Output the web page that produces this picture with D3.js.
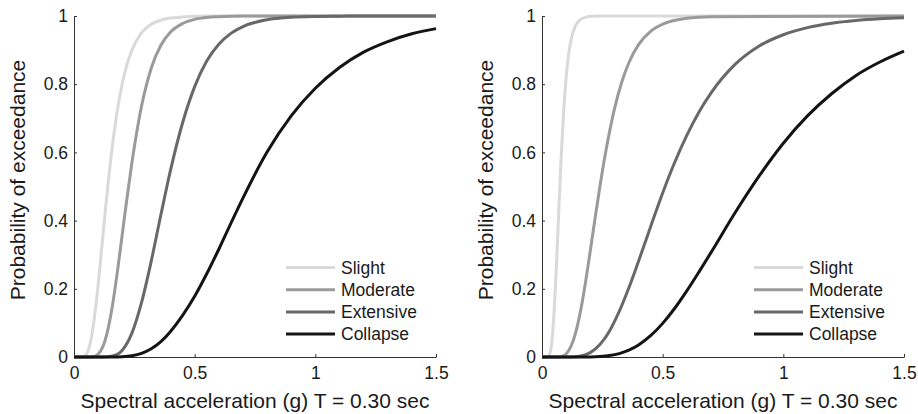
<!DOCTYPE html>
<html><head><meta charset="utf-8">
<script src="https://cdn.jsdelivr.net/npm/d3@7"></script>
<style>
body{margin:0;background:#fff}
svg{display:block}
text{font-family:"Liberation Sans",Arial,Helvetica,sans-serif}
</style>
</head><body>
<svg id="chart" width="918" height="414"></svg>
<script>
// ---------- data ----------
const seriesNames = ["Slight", "Moderate", "Extensive", "Collapse"];
const xTicks = [0, 0.5, 1, 1.5];
const xTickLabels = ["0", "0.5", "1", "1.5"];
const yTicks = [0, 0.2, 0.4, 0.6, 0.8, 1];
const yTickLabels = ["0", "0.2", "0.4", "0.6", "0.8", "1"];
const xTitle = "Spectral acceleration (g) T = 0.30 sec";
const yTitle = "Probability of exceedance";

// Left panel
const leftSlightX = [0, 0.02, 0.03, 0.04, 0.05, 0.06, 0.07, 0.08, 0.09, 0.10, 0.11, 0.12, 0.13, 0.14, 0.16, 0.18, 0.20, 0.22, 0.24, 0.28, 0.32, 0.36, 0.40, 0.45, 0.50, 0.55, 1.5];
const leftSlightY = [0, 0, 0.0001, 0.0014, 0.007, 0.022, 0.050, 0.092, 0.147, 0.211, 0.283, 0.357, 0.430, 0.500, 0.624, 0.725, 0.802, 0.859, 0.900, 0.951, 0.976, 0.988, 0.994, 0.997, 0.999, 1, 1];
const leftModerateX = [0, 0.06, 0.08, 0.10, 0.12, 0.14, 0.16, 0.18, 0.20, 0.22, 0.24, 0.26, 0.28, 0.30, 0.32, 0.36, 0.40, 0.45, 0.50, 0.55, 0.60, 0.70, 1.5];
const leftModerateY = [0, 0, 0.001, 0.008, 0.031, 0.079, 0.154, 0.251, 0.360, 0.468, 0.570, 0.659, 0.736, 0.797, 0.847, 0.914, 0.953, 0.978, 0.990, 0.9955, 0.998, 1, 1];
const leftExtensiveX = [0, 0.12, 0.16, 0.20, 0.24, 0.28, 0.32, 0.36, 0.40, 0.45, 0.50, 0.55, 0.60, 0.65, 0.70, 0.80, 0.90, 1.00, 1.10, 1.20, 1.5];
const leftExtensiveY = [0, 0.0001, 0.003, 0.020, 0.070, 0.160, 0.281, 0.417, 0.548, 0.687, 0.793, 0.868, 0.917, 0.949, 0.969, 0.989, 0.996, 0.9986, 0.9995, 1, 1];
const leftCollapseX = [0, 0.16, 0.20, 0.24, 0.28, 0.32, 0.36, 0.40, 0.45, 0.50, 0.55, 0.60, 0.65, 0.70, 0.80, 0.90, 1.00, 1.10, 1.20, 1.30, 1.40, 1.50];
const leftCollapseY = [0, 0.0001, 0.0009, 0.0037, 0.0107, 0.024, 0.045, 0.075, 0.122, 0.178, 0.244, 0.316, 0.392, 0.466, 0.601, 0.707, 0.788, 0.849, 0.894, 0.925, 0.948, 0.963];

// Right panel
const rightSlightX = [0, 0.02, 0.03, 0.04, 0.05, 0.06, 0.07, 0.08, 0.09, 0.10, 0.11, 0.12, 0.14, 0.16, 0.18, 0.20, 0.24, 1.5];
const rightSlightY = [0, 0, 0.006, 0.040, 0.130, 0.270, 0.437, 0.593, 0.724, 0.819, 0.886, 0.929, 0.973, 0.990, 0.996, 0.999, 1, 1];
const rightModerateX = [0, 0.06, 0.08, 0.10, 0.12, 0.14, 0.16, 0.18, 0.20, 0.22, 0.24, 0.26, 0.28, 0.30, 0.33, 0.36, 0.40, 0.45, 0.50, 0.60, 0.70, 1.5];
const rightModerateY = [0, 0.0001, 0.0015, 0.009, 0.031, 0.073, 0.136, 0.218, 0.311, 0.407, 0.500, 0.586, 0.661, 0.727, 0.805, 0.863, 0.916, 0.955, 0.976, 0.9934, 0.998, 1];
const rightExtensiveX = [0, 0.12, 0.16, 0.20, 0.24, 0.28, 0.32, 0.36, 0.40, 0.45, 0.50, 0.55, 0.60, 0.65, 0.70, 0.80, 0.90, 1.00, 1.10, 1.20, 1.30, 1.40, 1.50];
const rightExtensiveY = [0, 0.0003, 0.0029, 0.0129, 0.0363, 0.0764, 0.1335, 0.203, 0.281, 0.382, 0.481, 0.571, 0.650, 0.718, 0.774, 0.858, 0.912, 0.945, 0.966, 0.979, 0.987, 0.992, 0.995];
const rightCollapseX = [0, 0.16, 0.20, 0.24, 0.28, 0.32, 0.36, 0.40, 0.45, 0.50, 0.55, 0.60, 0.65, 0.70, 0.80, 0.90, 1.00, 1.10, 1.20, 1.30, 1.40, 1.50];
const rightCollapseY = [0, 0, 0.0003, 0.0014, 0.0042, 0.0100, 0.0200, 0.0353, 0.0624, 0.0986, 0.143, 0.194, 0.249, 0.306, 0.423, 0.531, 0.627, 0.707, 0.772, 0.825, 0.865, 0.897];

// ---------- styles / layout ----------
const seriesColors = ["#d9d9d9", "#9a9a9a", "#686868", "#141414"];
const panels = [
  {x0: 74, x1: 436, xs: [leftSlightX, leftModerateX, leftExtensiveX, leftCollapseX], ys: [leftSlightY, leftModerateY, leftExtensiveY, leftCollapseY]},
  {x0: 542, x1: 904, xs: [rightSlightX, rightModerateX, rightExtensiveX, rightCollapseX], ys: [rightSlightY, rightModerateY, rightExtensiveY, rightCollapseY]}
];
const yTop = 16, yBot = 357;
const svg = d3.select("#chart");

panels.forEach(p => {
  const x = d3.scaleLinear().domain([0, 1.5]).range([p.x0, p.x1]);
  const y = d3.scaleLinear().domain([0, 1]).range([yBot, yTop]);
  const g = svg.append("g");

  const xa = g.append("g").attr("transform", `translate(0,${yBot})`)
    .call(d3.axisBottom(x).tickValues(xTicks).tickFormat((d, i) => xTickLabels[i])
      .tickSizeInner(-3).tickSizeOuter(0).tickPadding(10));
  const ya = g.append("g").attr("transform", `translate(${p.x0},0)`)
    .call(d3.axisLeft(y).tickValues(yTicks).tickFormat((d, i) => yTickLabels[i])
      .tickSizeInner(-3).tickSizeOuter(0).tickPadding(6));
  [xa, ya].forEach(a => {
    a.attr("font-family", null).attr("font-size", null);
    a.selectAll("path.domain").attr("stroke", "#333").attr("stroke-width", 1);
    a.selectAll(".tick line").attr("stroke", "#333");
    a.selectAll(".tick text").attr("fill", "#1a1a1a").style("font-size", "17.5px");
  });

  const line = d3.line().x(d => x(d[0])).y(d => y(d[1])).curve(d3.curveMonotoneX);
  p.xs.forEach((xs, i) => {
    const pts = xs.map((v, j) => [v, p.ys[i][j]]);
    g.append("path").datum(pts).attr("d", line)
      .attr("fill", "none").attr("stroke", seriesColors[i])
      .attr("stroke-width", 3).attr("stroke-linejoin", "round");
  });

  // legend
  const lg = g.append("g");
  seriesNames.forEach((name, i) => {
    const cy = 267.5 + i * 22.2;
    lg.append("line").attr("x1", p.x0 + 212).attr("x2", p.x0 + 261)
      .attr("y1", cy).attr("y2", cy).attr("stroke", seriesColors[i]).attr("stroke-width", 3);
    lg.append("text").attr("x", p.x0 + 267).attr("y", cy).attr("dy", "0.36em")
      .style("font-size", "17.5px").attr("fill", "#1a1a1a").text(name);
  });

  // titles
  g.append("text").attr("x", (p.x0 + p.x1) / 2).attr("y", 408)
    .attr("text-anchor", "middle").style("font-size", "21px").attr("fill", "#1a1a1a").text(xTitle);
  g.append("text").attr("transform", `translate(${p.x0 - 49},180) rotate(-90)`)
    .attr("text-anchor", "middle").style("font-size", "21px").attr("fill", "#1a1a1a").text(yTitle);
});
</script>
</body></html>
